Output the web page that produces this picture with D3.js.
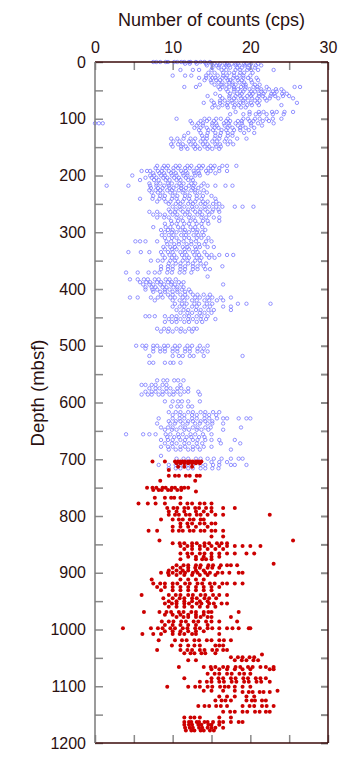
<!DOCTYPE html>
<html>
<head>
<meta charset="utf-8">
<script src="https://cdn.jsdelivr.net/npm/d3@7"></script>
<style>
  body { margin: 0; background: #fff; }
  text { font-family: "Liberation Sans", Arial, Helvetica, sans-serif; fill: #2a1010; }
</style>
</head>
<body>
<div id="chart"></div>
<script>
// x tick labels (counts, cps) and depth tick labels (mbsf)
const countTicks = [0, 10, 20, 30];
const depthTicks = [0, 100, 200, 300, 400, 500, 600, 700, 800, 900, 1000, 1100, 1200];

// upper unit: [depth, [counts...]]  (open blue circles)
const upperData = [
  [0, [7.5, 7.9, 8.4, 9.1, 9.4, 10.2, 10.6, 11.1, 11.5, 12.1, 12.3, 13.0, 13.6, 14.1, 14.8]],
  [3, [11.6, 12.2, 13.1, 14.3, 15.0, 15.4, 16.1, 16.7, 17.0, 17.6, 18.1, 18.4, 19.2, 19.5, 20.1, 21.0]],
  [6, [14.4, 15.6, 16.0, 16.9, 17.2, 18.1, 18.6, 19.3, 19.9, 20.7, 21.4]],
  [10, [15.1, 15.9, 16.6, 17.4, 18.3, 18.9, 19.7, 20.6]],
  [14, [11.0, 12.6, 13.4, 15.0, 16.3, 16.9, 18.1, 18.7, 19.6, 20.1, 21.0, 23.0]],
  [19, [14.6, 15.4, 16.5, 17.3, 17.9, 18.7, 19.2, 20.3]],
  [24, [10.0, 11.6, 12.4, 14.3, 14.9, 15.8, 16.5, 17.0, 17.9, 18.6, 19.1, 20.0]],
  [28, [13.4, 14.3, 15.1, 15.5, 16.4, 16.9, 17.8, 18.3, 19.1, 19.7, 20.8]],
  [32, [14.1, 14.9, 15.6, 16.1, 17.1, 17.4, 18.4, 18.9, 20.1, 21.0]],
  [36, [15.0, 15.9, 16.4, 17.3, 17.7, 18.6, 19.2, 20.2]],
  [40, [13.5, 15.4, 16.3, 16.9, 17.7, 18.1, 19.1, 19.4, 20.6, 21.2]],
  [44, [11.5, 13.0, 15.9, 16.4, 17.3, 17.9, 18.8, 19.4, 20.4, 20.9, 22.1, 25.7, 26.4]],
  [48, [16.1, 16.9, 17.9, 18.4, 19.3, 19.9, 20.9, 21.4, 22.4, 23.3, 24.0]],
  [52, [17.1, 17.9, 18.7, 19.1, 20.1, 20.6, 21.4, 21.9, 22.9, 23.4, 24.3]],
  [56, [15.5, 17.4, 18.3, 18.9, 19.9, 20.3, 21.1, 21.7, 22.7, 23.1, 24.1, 24.7]],
  [60, [14.5, 16.1, 17.3, 18.1, 18.7, 19.6, 20.1, 21.1, 21.6, 22.6, 23.2, 24.2, 25.0]],
  [64, [16.4, 17.3, 17.9, 18.8, 19.3, 20.2, 20.9, 21.9, 22.5, 23.6, 25.5]],
  [68, [15.0, 16.1, 16.7, 17.6, 18.2, 19.1, 19.7, 20.6, 21.2, 22.1]],
  [72, [14.0, 15.3, 16.1, 17.1, 17.7, 18.7, 19.1, 20.1, 20.9, 26.0]],
  [76, [15.4, 16.4, 17.0, 18.0, 18.5, 19.6, 20.2, 21.1, 24.0]],
  [80, [15.1, 15.9, 17.1, 17.9, 18.8, 19.4]],
  [88, [18.1, 19.9, 21.1, 21.7, 22.8, 23.4, 24.4, 25.5]],
  [92, [17.4, 19.1, 19.9, 20.7, 21.2, 22.1, 22.9, 24.3]],
  [100, [10.5, 14.1, 14.7, 15.6, 16.2, 17.1, 19.1, 19.7, 20.6, 21.2, 22.1, 22.9, 24.0]],
  [104, [12.3, 13.6, 14.4, 15.3, 16.9, 17.4, 18.4, 18.9, 19.9, 20.4, 21.6, 22.4]],
  [108, [0.0, 0.5, 1.0, 12.5, 13.3, 13.9, 15.1, 15.6, 16.6, 17.2, 18.1, 18.9, 20.1, 21.0, 23.0]],
  [112, [13.1, 13.9, 15.1, 15.7, 16.7, 17.3, 18.4, 19.0, 20.1, 21.5]],
  [116, [12.8, 13.6, 14.4, 15.4, 15.9, 17.1, 17.7, 18.7, 19.4, 20.5]],
  [120, [13.4, 14.6, 15.2, 16.3, 16.9, 17.9, 18.7, 19.8]],
  [125, [12.0, 13.6, 14.5, 15.5, 16.2, 17.1, 17.7, 19.2, 20.5]],
  [130, [11.5, 13.8, 14.4, 15.5, 16.1, 17.1, 17.7]],
  [135, [9.8, 10.6, 11.4, 12.3, 12.9, 13.9, 14.4, 15.4, 16.0, 16.9, 18.3, 19.5]],
  [140, [10.1, 10.9, 12.1, 12.7, 13.6, 14.2, 15.1, 15.7, 16.7, 17.4]],
  [145, [9.8, 10.7, 11.3, 12.3, 12.9, 13.9, 14.5, 15.5, 16.1, 17.1, 17.8]],
  [149, [10.0, 11.1, 11.7, 12.7, 13.2, 14.1, 14.7, 15.6, 16.2]],
  [153, [11.1, 11.9, 12.9, 13.5, 14.5, 15.1, 16.0]],
  [183, [8.0, 8.9, 9.4, 10.4, 10.9, 11.9, 12.4, 13.4, 13.9, 14.9, 15.4, 16.4, 17.0, 18.2]],
  [187, [7.8, 8.7, 9.2, 10.1, 10.7, 11.6, 12.2, 13.1, 13.7, 14.6, 15.2, 16.0]],
  [192, [6.0, 6.7, 7.1, 8.1, 8.6, 9.5, 10.1, 11.1, 11.7, 12.7, 13.3, 14.3, 14.9, 16.0, 17.0]],
  [196, [7.5, 8.3, 8.9, 9.8, 10.4, 11.3, 11.9, 12.8, 13.4, 14.5, 15.5]],
  [200, [4.8, 7.1, 7.6, 8.5, 9.0, 9.9, 10.5, 11.4, 11.9, 12.9, 13.5]],
  [204, [6.5, 7.3, 7.9, 8.8, 9.3, 10.2, 10.8, 11.7, 12.4]],
  [208, [5.8, 7.6, 8.2, 9.1, 9.6, 10.5, 11.0, 12.0, 12.6]],
  [214, [7.0, 7.9, 8.4, 9.4, 9.9, 10.9, 11.4, 12.4, 12.9, 14.0]],
  [218, [1.5, 4.3, 7.1, 7.9, 8.9, 9.5, 10.5, 11.1, 12.1, 12.7, 13.7, 14.5, 15.5, 16.8, 17.7]],
  [222, [7.2, 8.1, 8.7, 9.6, 10.1, 11.1, 11.7, 12.6, 13.3]],
  [226, [7.0, 7.8, 8.4, 9.3, 9.9, 10.8, 11.4, 12.4, 12.9, 14.0]],
  [230, [7.3, 8.1, 8.7, 9.7, 10.3, 11.3, 11.9, 12.9, 13.5, 14.4]],
  [236, [7.5, 8.4, 9.0, 10.0, 10.6, 11.6, 12.2, 13.1, 13.9, 15.0]],
  [241, [5.8, 7.4, 8.3, 8.9, 9.9, 10.5, 11.5, 12.1, 13.1, 13.7, 15.5]],
  [246, [8.0, 9.1, 9.7, 10.7, 11.3, 12.3, 12.9, 13.9, 14.5, 15.6]],
  [250, [9.5, 10.4, 11.0, 12.0, 12.6, 13.6, 14.2, 15.2, 16.0]],
  [255, [10.0, 10.9, 11.5, 12.5, 13.1, 14.1, 14.7, 15.6, 16.4, 18.0, 19.0, 20.4]],
  [260, [9.5, 10.4, 11.0, 12.0, 12.6, 13.6, 14.2, 15.2, 15.9]],
  [264, [7.0, 8.0, 9.7, 10.3, 11.3, 11.9, 12.9, 13.5, 14.5, 15.1, 16.0]],
  [269, [7.5, 8.4, 9.0, 10.0, 10.6, 11.6, 12.2, 13.2, 13.8, 14.7]],
  [274, [8.0, 8.9, 9.5, 10.5, 11.1, 12.1, 12.7, 13.7, 14.3, 15.3, 16.0]],
  [280, [9.8, 10.7, 11.3, 12.3, 12.9, 13.9, 14.5, 16.0]],
  [285, [9.0, 9.9, 10.5, 11.5, 12.1, 13.1, 13.7, 14.6]],
  [291, [7.5, 9.1, 9.7, 10.7, 11.3, 12.3, 12.9, 13.8]],
  [296, [8.5, 9.4, 10.0, 11.0, 11.6, 12.6, 13.2, 14.2]],
  [300, [9.0, 9.9, 10.5, 11.5, 12.1, 13.1, 13.8]],
  [305, [8.6, 9.5, 10.1, 11.1, 11.7, 12.7, 13.3, 14.0]],
  [310, [9.0, 9.9, 10.5, 11.5, 12.1, 13.1, 13.7, 14.6]],
  [316, [5.2, 5.8, 6.5, 8.0, 9.2, 9.8, 10.8, 11.4, 12.4, 13.0, 14.3, 15.0]],
  [321, [9.3, 10.2, 10.8, 11.8, 12.4, 13.4, 14.1]],
  [326, [8.8, 9.7, 10.3, 11.3, 11.9, 12.9, 13.5, 14.5, 15.3]],
  [330, [9.0, 9.9, 10.5, 11.5, 12.1, 13.0]],
  [335, [4.3, 5.9, 7.0, 8.5, 9.4, 10.0, 11.0, 11.6, 12.6, 13.2, 14.1]],
  [340, [8.7, 9.6, 10.2, 11.2, 11.8, 12.8, 13.4, 14.4, 15.0, 16.0, 17.0, 17.8]],
  [345, [9.0, 9.9, 10.5, 11.5, 12.1, 13.1, 13.7, 14.7, 15.4]],
  [350, [7.2, 8.1, 8.7, 9.7, 10.3, 11.3, 11.9, 12.9, 13.5]],
  [355, [9.5, 10.4, 11.0, 12.0, 12.6, 13.6, 14.3]],
  [360, [8.5, 9.4, 10.0, 11.0, 11.6, 12.6, 13.2, 14.0, 16.4]],
  [365, [8.5, 9.4, 10.0, 11.0, 11.6, 12.6, 13.2, 14.2, 14.8]],
  [371, [4.0, 5.5, 6.9, 7.7, 8.3, 9.3, 9.9, 10.9, 11.5, 12.4]],
  [378, [14.5]],
  [383, [4.5, 5.5, 6.3, 6.8, 7.7, 8.2, 9.1, 9.6, 10.4]],
  [388, [5.8, 6.6, 7.1, 8.0, 8.5, 9.4, 9.9, 10.8, 11.4]],
  [392, [6.2, 7.0, 7.5, 8.4, 8.9, 9.8, 10.3, 11.1, 16.5]],
  [397, [6.5, 7.3, 7.8, 8.7, 9.2, 10.1, 10.6, 11.4]],
  [401, [6.5, 7.4, 8.0, 9.0, 9.6, 10.6, 11.2, 12.1]],
  [405, [7.5, 8.4, 9.0, 10.0, 10.6, 11.6, 12.3]],
  [410, [8.5, 9.4, 10.0, 11.0, 11.6, 12.6, 13.2, 14.0, 14.8]],
  [415, [4.5, 5.5, 7.2, 8.1, 8.7, 9.7, 10.3, 11.3, 11.9, 12.9, 13.5, 14.5, 15.1, 16.2, 17.5]],
  [420, [7.7, 10.0, 10.9, 11.5, 12.5, 13.1, 14.1, 14.7, 15.7, 16.5]],
  [426, [10.3, 11.2, 11.8, 12.8, 13.4, 14.4, 15.1, 18.4, 19.5, 22.6]],
  [431, [10.0, 10.9, 11.5, 12.5, 13.1, 14.1, 14.8, 16.5, 17.5]],
  [437, [10.5, 11.4, 12.0, 13.0, 13.6, 14.6, 15.3, 17.5]],
  [442, [11.0, 11.9, 12.5, 13.5, 14.1, 15.0]],
  [448, [6.5, 7.0, 7.7, 9.0, 9.9, 10.5, 11.5, 12.1, 13.1, 13.7, 14.5]],
  [453, [9.5, 10.4, 11.0, 12.0, 12.6, 13.6, 14.3, 15.5]],
  [458, [9.0, 9.9, 10.5, 11.5, 12.1, 13.1, 13.8]],
  [470, [8.0, 8.9, 9.5, 10.5, 11.1, 12.1, 12.7, 13.1]],
  [475, [8.5, 9.4, 10.0, 11.0, 11.6, 12.5]],
  [500, [5.3, 6.1, 6.6, 7.5, 8.0, 8.9, 9.4, 10.3, 10.9, 11.9, 12.5, 13.5, 14.5]],
  [505, [6.5, 7.5, 8.4, 9.0, 10.0, 10.6, 11.6, 12.2, 13.2, 14.0]],
  [510, [7.5, 8.4, 9.0, 10.0, 10.6, 11.6, 12.2, 13.2, 13.8, 14.5]],
  [518, [7.0, 10.0, 10.8, 11.3, 12.2, 12.7, 14.0, 19.0]],
  [530, [7.0, 7.5, 9.0, 9.7, 10.1, 11.0]],
  [561, [8.0, 8.8, 9.3, 10.2, 10.7, 11.4]],
  [569, [6.0, 6.5, 7.3, 7.8, 8.7, 9.2, 11.0]],
  [575, [7.0, 7.8, 8.3, 9.2, 9.7, 10.6, 11.1, 12.0]],
  [581, [6.5, 7.3, 7.8, 8.7, 9.2, 10.1, 10.6, 11.5, 12.0, 13.3]],
  [586, [6.0, 6.8, 7.3, 8.2, 8.7, 9.6, 10.1, 11.0, 13.5]],
  [598, [9.0, 10.0, 10.7, 11.2, 12.0, 13.5]],
  [607, [9.8, 10.6, 11.1, 12.0, 12.5]],
  [617, [9.5, 10.4, 11.0, 12.0, 12.6, 13.6, 14.2, 15.2, 16.0]],
  [622, [10.0, 10.9, 11.5, 12.5, 13.1, 14.1, 14.7, 15.6]],
  [628, [8.2, 10.0, 10.9, 11.5, 12.5, 13.1, 14.1, 14.7, 15.7, 16.5, 17.0, 18.5, 19.5, 20.0]],
  [633, [9.5, 10.4, 11.0, 12.0, 12.6, 13.6, 14.2, 15.1]],
  [637, [8.0, 9.7, 10.3, 11.3, 11.9, 12.9, 13.5, 14.5, 15.1, 16.5]],
  [644, [8.5, 9.4, 10.0, 11.0, 11.6, 12.6, 13.2, 14.2, 14.9, 18.8]],
  [648, [9.0, 9.9, 10.5, 11.5, 12.1, 13.1, 13.7, 14.6, 16.5]],
  [656, [4.0, 6.2, 7.0, 7.8, 9.1, 9.7, 10.7, 11.3, 12.3, 12.9, 13.9, 15.0]],
  [661, [9.3, 10.2, 10.8, 11.8, 12.4, 13.4, 14.1]],
  [666, [8.5, 9.4, 10.0, 11.0, 11.6, 12.6, 13.2, 14.2, 15.0, 16.0, 18.0]],
  [672, [9.0, 9.9, 10.5, 11.5, 12.1, 13.1, 13.8, 16.2, 18.7]],
  [678, [8.5, 9.4, 10.0, 11.0, 11.6, 12.6, 13.2, 14.0, 15.0]],
  [683, [9.5, 10.4, 11.0, 12.0, 12.6, 13.5, 17.5]],
  [694, [8.5]],
  [699, [10.5, 11.4, 12.0, 13.0, 13.6, 14.5, 15.3, 16.3, 17.5, 18.5, 19.0]],
  [705, [15.0, 16.0, 17.0]],
  [710, [8.2, 9.5, 10.4, 11.0, 12.0, 12.6, 13.6, 14.2, 15.2, 16.0, 17.5, 18.0, 19.5]],
  [716, [9.5, 10.4, 11.0, 12.0, 12.6, 13.6, 14.2, 15.1, 15.9]]
];

// lower unit: [depth, [counts...]]  (filled red dots)
const lowerData = [
  [704, [7.4, 9.0, 10.3, 10.7, 11.0, 11.3, 11.6, 12.0, 12.3, 12.6, 13.0, 13.3, 13.7]],
  [707, [10.5, 11.0, 11.5, 12.0, 12.5, 13.0, 13.5]],
  [713, [10.7, 11.5, 12.5]],
  [719, [9.5]],
  [729, [9.5, 10.3, 10.8, 11.7, 12.2, 13.1, 13.5]],
  [738, [8.4, 12.9]],
  [750, [6.7, 7.4, 7.9, 8.7, 9.1, 9.9, 10.3, 11.1, 11.5, 12.0]],
  [754, [7.5, 8.2, 8.6, 9.4, 9.8, 10.6, 11.1]],
  [757, [13.0]],
  [768, [7.7, 9.0, 9.8, 10.2, 11.0]],
  [778, [5.6, 6.8, 7.8, 9.0, 11.0, 11.9, 12.5, 13.5, 14.1, 15.0]],
  [786, [9.3, 10.1, 10.6, 11.5, 12.0, 12.9, 13.4, 14.3, 15.0, 16.5, 18.0]],
  [792, [9.5, 10.5, 11.5, 13.0, 14.0, 15.0]],
  [798, [9.5, 10.3, 10.8, 11.7, 12.2, 13.1, 13.6, 14.5, 15.5, 16.5, 22.5]],
  [806, [8.5, 10.0, 10.8, 11.3, 12.2, 12.7, 13.6, 14.0]],
  [813, [11.0, 11.9, 12.5, 13.5, 14.1, 15.0, 15.5]],
  [819, [10.0, 11.0, 12.0, 13.0, 14.5]],
  [826, [6.9, 8.0, 10.0, 10.8, 11.3, 12.2, 12.7, 13.6, 14.1, 15.0, 15.5, 16.5]],
  [836, [15.0, 16.5]],
  [843, [8.3, 25.5]],
  [848, [10.0, 10.9, 11.5, 12.5, 13.1, 14.1, 14.7, 15.7, 16.3, 17.0]],
  [853, [11.0, 11.9, 12.5, 13.5, 14.1, 15.0, 16.0, 17.0, 18.0, 19.0, 20.0, 21.3]],
  [858, [11.5, 12.5, 13.5, 14.5, 15.5, 16.5]],
  [866, [11.0, 11.9, 12.5, 13.5, 14.1, 15.0, 16.0, 17.0, 18.0, 19.5, 20.5]],
  [872, [12.0, 13.0, 14.0, 15.0, 16.0]],
  [876, [11.0, 13.0, 13.8, 14.3, 15.0]],
  [884, [23.0]],
  [887, [10.5, 11.4, 12.0, 13.0, 13.6, 14.6, 15.2, 16.2, 17.0, 17.5, 18.3]],
  [891, [10.0, 11.0, 12.0, 12.9, 13.5, 14.5, 15.1, 16.0]],
  [896, [9.5, 10.5, 11.3, 12.0, 13.0, 14.0]],
  [900, [8.5, 9.4, 10.0, 11.0, 11.6, 12.6, 13.2, 14.2, 14.8, 15.8, 16.4, 17.3, 18.5, 19.0]],
  [904, [9.5, 10.5, 11.5, 12.5, 13.5, 14.5, 15.5]],
  [912, [7.3, 11.0, 12.0, 13.0, 14.0]],
  [919, [7.5, 8.4, 9.0, 10.0, 10.6, 11.6, 12.2, 13.2, 13.8, 14.8, 15.4, 16.4, 17.0, 18.0, 19.0]],
  [925, [8.0, 9.0, 10.0, 11.0, 12.0, 13.0, 14.0, 15.0, 16.0]],
  [931, [8.5, 10.0, 11.0, 12.0, 13.0, 14.0, 15.0]],
  [939, [6.0, 9.5, 10.4, 11.0, 12.0, 12.6, 13.6, 14.2, 15.2, 16.0, 17.0]],
  [945, [8.8, 10.0, 10.9, 11.5, 12.5, 13.1, 14.1, 14.7, 15.6]],
  [950, [9.5, 10.5, 11.5, 12.5, 13.5, 14.5]],
  [954, [9.0, 9.9, 10.5, 11.5, 12.1, 13.1, 13.7, 14.7, 15.3, 16.3, 17.0]],
  [960, [9.5, 10.5, 11.5, 12.5, 13.5, 14.5, 15.5]],
  [969, [6.3, 8.3, 9.2, 9.8, 10.8, 11.4, 12.4, 13.0, 14.0, 14.6, 15.0, 18.5]],
  [974, [9.0, 10.0, 11.0, 12.0, 13.0, 14.0]],
  [978, [10.5, 11.4, 12.0, 13.0, 13.6, 14.5, 15.0, 17.5]],
  [986, [8.6, 9.5, 10.1, 11.1, 11.7, 12.7, 13.3, 14.3, 15.0, 16.0, 18.3]],
  [992, [9.0, 10.0, 11.0, 12.0, 13.0, 14.5]],
  [998, [3.6, 7.2, 8.1, 8.7, 9.7, 10.3, 11.3, 11.9, 12.9, 13.5, 14.5, 15.1, 16.0, 17.0, 17.7, 18.5, 19.8, 20.0]],
  [1003, [9.0, 10.0, 11.0, 12.0, 13.0, 14.0]],
  [1008, [6.1, 7.5, 8.5, 10.0, 10.9, 11.5, 12.5, 13.0, 16.0]],
  [1019, [8.2, 10.3, 11.2, 11.8, 12.8, 13.4, 14.4, 15.0, 16.0, 16.6, 17.5]],
  [1028, [9.9, 11.0, 12.0, 12.8, 13.5, 15.5, 16.0, 16.5]],
  [1036, [8.0, 11.0, 11.9, 12.5, 13.5, 14.1, 15.1, 15.7, 16.5, 17.0]],
  [1042, [11.5, 12.3, 12.8, 13.7, 14.2, 15.5]],
  [1044, [21.5]],
  [1049, [17.5, 18.4, 19.0, 19.9, 20.5]],
  [1054, [12.0, 13.0, 18.0, 18.9, 19.5, 20.4, 21.0]],
  [1066, [10.8, 14.0, 14.9, 15.5, 16.5, 17.1, 18.1, 18.7, 19.7, 20.3, 21.3, 22.0, 23.0]],
  [1070, [15.0, 16.0, 17.0, 18.0, 19.0, 20.0, 22.5, 23.0]],
  [1078, [14.5, 15.4, 16.0, 17.0, 17.6, 18.6, 19.2, 20.0]],
  [1086, [11.5, 15.0, 15.9, 16.5, 17.5, 18.1, 19.1, 19.7, 20.7, 21.3, 22.0]],
  [1092, [13.5, 14.4, 15.0, 16.0, 16.6, 17.6, 18.2, 19.2, 19.8, 20.8, 21.4, 22.5]],
  [1101, [9.3, 12.0, 12.9, 13.5, 14.5, 15.1, 16.1, 16.7, 17.2, 18.0, 19.0, 20.0]],
  [1108, [14.0, 15.0, 16.5, 18.0, 23.5]],
  [1110, [19.0, 19.8, 20.3, 21.2, 21.7, 22.5]],
  [1118, [16.0, 17.0, 18.0, 19.5, 20.5]],
  [1125, [15.5, 16.3, 16.8, 17.5, 19.5, 20.2, 20.6, 21.5, 22.0]],
  [1135, [13.3, 14.1, 14.7, 15.6, 16.2, 17.0, 19.0, 19.9, 20.5, 21.5, 22.1, 23.0]],
  [1145, [16.5, 17.4, 18.0, 19.0, 19.6, 20.6, 21.2, 22.0, 22.5]],
  [1155, [11.5, 12.3, 12.8, 13.5, 16.0, 17.5]],
  [1163, [11.5, 12.1, 12.4, 13.1, 13.4, 14.1, 14.5, 15.2, 16.0, 16.5, 17.5, 18.5, 19.0]],
  [1168, [11.5, 12.1, 12.5, 13.3, 13.7, 14.6, 15.0, 16.0]],
  [1173, [11.6, 12.2, 12.6, 13.4, 13.8, 14.5, 15.0, 15.5, 16.5]],
  [1178, [11.7, 12.4, 12.8, 13.6, 14.0, 14.8, 15.3]]
];

const margin = { top: 62, right: 25, bottom: 28, left: 95 };
const width = 353 - margin.left - margin.right;
const height = 771 - margin.top - margin.bottom;

const svg = d3.select("#chart")
  .append("svg")
    .attr("width", 353)
    .attr("height", 771)
  .append("g")
    .attr("transform", `translate(${margin.left}, ${margin.top})`);

const xScale = d3.scaleLinear().domain([0, 30]).range([0, width]);
const yScale = d3.scaleLinear().domain([0, 1200]).range([0, height]);

// flatten rows into points
const toPoints = rows => rows.flatMap(([depth, xs]) => xs.map(x => ({ depth: depth, count: x })));

// ticks inside the frame
const tickColor = "#8a8a8a";
const frameColor = "#3a0a0a";

// top axis (labelled) and bottom axis (ticks only)
const xTop = svg.append('g')
  .call(d3.axisTop(xScale).tickValues(d3.range(0, 31, 5)).tickSize(-8)
    .tickFormat(d => countTicks.includes(d) ? d : ''));
xTop.select('.domain').remove();
xTop.selectAll('.tick line').attr('stroke', tickColor).attr('stroke-width', 1.5);
xTop.selectAll('.tick text').attr('y', -9).style('font-size', '16px');

const xBottom = svg.append('g')
  .attr('transform', `translate(0, ${height})`)
  .call(d3.axisBottom(xScale).tickValues(d3.range(0, 31, 5)).tickSize(-8).tickFormat(''));
xBottom.select('.domain').remove();
xBottom.selectAll('.tick line').attr('stroke', tickColor).attr('stroke-width', 1.5);

// left axis (labelled) and right axis
const yLeft = svg.append('g')
  .call(d3.axisLeft(yScale).tickValues(d3.range(0, 1201, 50)).tickSize(-8)
    .tickFormat(d => depthTicks.includes(d) ? d : ''));
yLeft.select('.domain').remove();
yLeft.selectAll('.tick line').attr('stroke', tickColor).attr('stroke-width', 1.5);
yLeft.selectAll('.tick text').attr('x', -9).style('font-size', '16px');

const yRight = svg.append('g')
  .attr('transform', `translate(${width}, 0)`)
  .call(d3.axisRight(yScale).tickValues(d3.range(0, 1201, 50)).tickSize(-7).tickFormat(''));
yRight.select('.domain').remove();
yRight.selectAll('.tick line').attr('stroke', tickColor).attr('stroke-width', 2);

svg.selectAll('.tick text').style('fill', '#2a1010').style('font-family', '"Liberation Sans", Arial, sans-serif');

// points
svg.selectAll('.upper')
  .data(toPoints(upperData))
  .enter().append('circle')
  .attr('class', 'upper')
  .attr('cx', d => xScale(d.count))
  .attr('cy', d => yScale(d.depth))
  .attr('r', 1.7)
  .attr('fill', 'none')
  .attr('stroke', '#7878ff')
  .attr('stroke-width', 0.8);

svg.selectAll('.lower')
  .data(toPoints(lowerData))
  .enter().append('circle')
  .attr('class', 'lower')
  .attr('cx', d => xScale(d.count))
  .attr('cy', d => yScale(d.depth))
  .attr('r', 2)
  .attr('fill', '#cc0000');

// frame
svg.append('line').attr('x1', 0).attr('x2', width).attr('y1', 0).attr('y2', 0)
  .attr('stroke', frameColor).attr('stroke-width', 1.5);
svg.append('line').attr('x1', 0).attr('x2', width).attr('y1', height).attr('y2', height)
  .attr('stroke', frameColor).attr('stroke-width', 1.5);
svg.append('line').attr('x1', width).attr('x2', width).attr('y1', 0).attr('y2', height)
  .attr('stroke', frameColor).attr('stroke-width', 1.5);
svg.append('line').attr('x1', 0).attr('x2', 0).attr('y1', 0).attr('y2', height)
  .attr('stroke', '#7a7a7a').attr('stroke-width', 1.5);

// x-axis title
svg.append('text')
  .attr('x', width / 2)
  .attr('y', -36)
  .style('text-anchor', 'middle')
  .style('font-size', '18px')
  .text('Number of counts (cps)');

// y-axis title
svg.append('text')
  .attr('transform', 'rotate(-90)')
  .attr('x', -(393 - margin.top))
  .attr('y', -51)
  .style('text-anchor', 'middle')
  .style('font-size', '18.5px')
  .text('Depth (mbsf)');
</script>
</body>
</html>
